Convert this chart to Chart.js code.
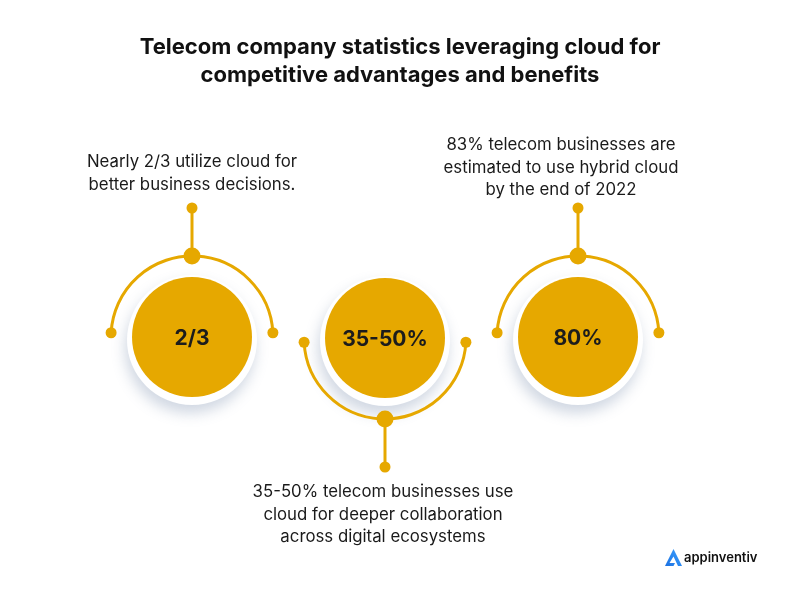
<!DOCTYPE html>
<html>
<head>
<meta charset="utf-8">
<script src="https://cdn.jsdelivr.net/npm/chart.js@4.4.1/dist/chart.umd.min.js"></script>
<style>
  html, body { margin: 0; padding: 0; background: #ffffff; }
  #wrap { width: 801px; height: 601px; }
</style>
</head>
<body>
<div id="wrap"><canvas id="c" width="801" height="601"></canvas></div>
<script>
// ---- data ----
const titleLines = [
  'Telecom company statistics leveraging cloud for',
  'competitive advantages and benefits'
];
const statValues = ['2/3', '35-50%', '80%'];
const statDescriptions = [
  ['Nearly 2/3 utilize cloud for', 'better business decisions.'],
  ['35-50% telecom businesses use', 'cloud for deeper collaboration', 'across digital ecosystems'],
  ['83% telecom businesses are', 'estimated to use hybrid cloud', 'by the end of 2022']
];
const brandName = 'appinventiv';

// ---- layout / style ----
const layout = {
  centerY: [337, 338, 337],
  arcDir: [-1, 1, -1],          // -1 = arc above, 1 = arc below
  circleR: 60,
  haloR: 65,
  haloDy: 3,
  arcR: 81,
  stemLen: 48,
  descDx: [0, -2, -17],
  descY: [162, 492, 145],
  descLineH: 22.5
};
const gold = '#E6A800';
const ink = '#1c1c1c';
const FONT = 'Inter, "Open Sans", "DejaVu Sans", sans-serif';

const infographic = {
  id: 'infographic',
  beforeDatasetsDraw(chart) {
    const ctx = chart.ctx;
    const meta = chart.getDatasetMeta(0);
    meta.data.forEach((el, i) => {
      const cx = el.x, cy = el.y, dir = layout.arcDir[i];
      // white halo with soft shadow
      ctx.save();
      ctx.shadowColor = 'rgba(110,130,165,0.32)';
      ctx.shadowBlur = 14;
      ctx.shadowOffsetX = -2;
      ctx.shadowOffsetY = 8;
      ctx.fillStyle = '#ffffff';
      ctx.beginPath();
      ctx.arc(cx, cy + layout.haloDy, layout.haloR, 0, Math.PI * 2);
      ctx.fill();
      ctx.restore();

      // arc
      const off = 3 * Math.PI / 180;
      ctx.save();
      ctx.strokeStyle = gold;
      ctx.fillStyle = gold;
      ctx.lineWidth = 3;
      ctx.beginPath();
      let a0, a1;
      if (dir < 0) { a0 = Math.PI + off; a1 = 2 * Math.PI - off; }
      else { a0 = off; a1 = Math.PI - off; }
      ctx.arc(cx, cy, layout.arcR, a0, a1);
      ctx.stroke();
      // end dots
      [a0, a1].forEach(a => {
        ctx.beginPath();
        ctx.arc(cx + layout.arcR * Math.cos(a), cy + layout.arcR * Math.sin(a), 5.5, 0, Math.PI * 2);
        ctx.fill();
      });
      // stem
      const yArc = cy + dir * layout.arcR;
      const yEnd = yArc + dir * layout.stemLen;
      ctx.beginPath();
      ctx.moveTo(cx, yArc);
      ctx.lineTo(cx, yEnd);
      ctx.stroke();
      ctx.beginPath();
      ctx.arc(cx, yArc, 8.5, 0, Math.PI * 2);
      ctx.fill();
      ctx.beginPath();
      ctx.arc(cx, yEnd, 5.5, 0, Math.PI * 2);
      ctx.fill();
      ctx.restore();
    });
  },
  afterDatasetsDraw(chart) {
    const ctx = chart.ctx;
    const meta = chart.getDatasetMeta(0);
    ctx.save();
    ctx.textAlign = 'center';
    ctx.textBaseline = 'middle';
    // title
    ctx.fillStyle = '#111111';
    ctx.font = 'bold 22px ' + FONT;
    titleLines.forEach((t, k) => ctx.fillText(t, 400, 47 + k * 28));
    meta.data.forEach((el, i) => {
      // value
      ctx.fillStyle = ink;
      ctx.font = 'bold 21px ' + FONT;
      ctx.fillText(statValues[i], el.x, el.y + 2);
      // description
      ctx.fillStyle = '#1a1a1a';
      ctx.font = '16.8px ' + FONT;
      statDescriptions[i].forEach((line, k) => {
        ctx.fillText(line, el.x + layout.descDx[i], layout.descY[i] + k * layout.descLineH);
      });
    });
    // brand mark
    ctx.save();
    const g = ctx.createLinearGradient(664, 566, 682, 550);
    g.addColorStop(0, '#1b6fe0');
    g.addColorStop(1, '#3aa0ff');
    ctx.fillStyle = g;
    ctx.beginPath();
    ctx.moveTo(673.5, 549);
    ctx.lineTo(682, 566);
    ctx.lineTo(678, 566);
    ctx.lineTo(673.5, 556.5);
    ctx.lineTo(669.5, 563);
    ctx.lineTo(675, 563);
    ctx.lineTo(673.5, 566);
    ctx.lineTo(665, 566);
    ctx.closePath();
    ctx.fill();
    ctx.restore();
    ctx.fillStyle = '#111111';
    ctx.textAlign = 'left';
    ctx.font = '600 13px ' + FONT;
    ctx.fillText(brandName, 684, 558);
    ctx.restore();
  }
};

const pxPerUnit = 193;
const firstX = 192;
new Chart(document.getElementById('c'), {
  type: 'bubble',
  data: {
    datasets: [{
      data: statValues.map((v, i) => ({ x: i, y: layout.centerY[i], r: layout.circleR })),
      backgroundColor: gold,
      borderWidth: 0,
      hoverRadius: 0,
      clip: false
    }]
  },
  options: {
    responsive: false,
    animation: false,
    events: [],
    layout: { padding: 0, autoPadding: false },
    plugins: { legend: { display: false }, tooltip: { enabled: false }, title: { display: false } },
    scales: {
      x: { type: 'linear', display: false, min: -firstX / pxPerUnit, max: (801 - firstX) / pxPerUnit },
      y: { type: 'linear', display: false, min: 0, max: 601, reverse: true }
    }
  },
  plugins: [infographic]
});
</script>
</body>
</html>
